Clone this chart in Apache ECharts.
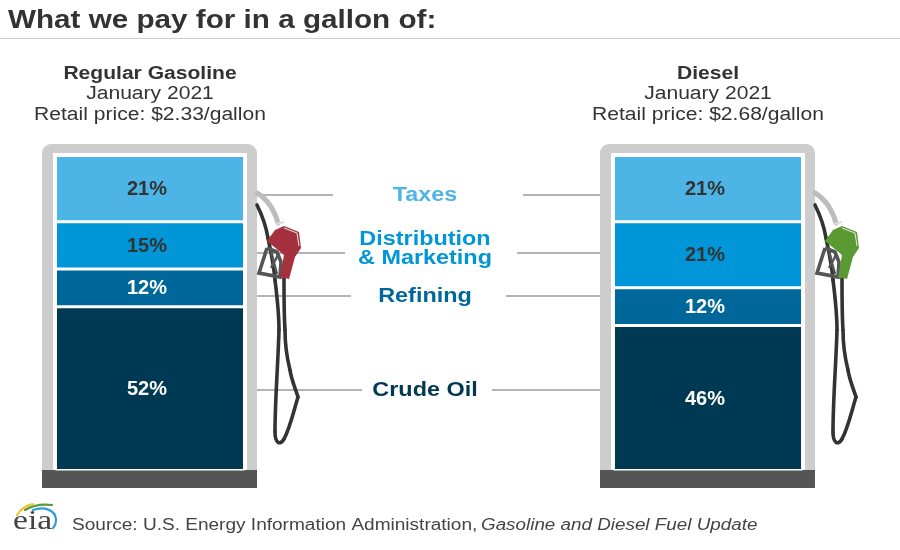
<!DOCTYPE html>
<html><head><meta charset="utf-8"><style>html,body{margin:0;padding:0;background:#fff}#c{width:900px;height:550px}</style>
<script src="https://cdn.jsdelivr.net/npm/echarts@6/dist/echarts.min.js"></script></head><body><div id="c"></div>
<script>
const fuels = ['Regular Gasoline', 'Diesel'];
const dates = ['January 2021', 'January 2021'];
const prices = ['$2.33', '$2.68'];
const components = ['Crude Oil', 'Refining', 'Distribution & Marketing', 'Taxes'];
const crudeOil = [52, 46];
const refining = [12, 12];
const distribution = [15, 21];
const taxes = [21, 21];
const componentValues = [crudeOil, refining, distribution, taxes];
const componentColors = ['#003953', '#00679A', '#0096D7', '#4DB4E6'];
const labelColors = ['#ffffff', '#ffffff', '#333333', '#333333'];
const nozzleColors = ['#A5313F', '#5B9A32'];
const FONT = '"Liberation Sans", Arial, sans-serif';

const chart = echarts.init(document.getElementById('c'), null, {renderer: 'canvas'});
const SX = 1.17;
const T = (x, y, text, o) => ({type: 'text', x, y: y + 1, scaleX: o.sx || SX, z: 20, style: {
  x: 0, y: 0, text, fill: o.c || '#333', align: o.a || 'center', verticalAlign: 'middle',
  font: `${o.i ? 'italic ' : ''}${o.b ? 'bold ' : ''}${o.s}px ${o.f || FONT}`}});
const Line = (x1, y, x2) => ({type: 'line', z: 3, shape: {x1, y1: y, x2, y2: y}, style: {stroke: '#9a9a9a', lineWidth: 1.3}});
const Curve = (start, segs, stroke, w, dx, z) => {
  let p = start;
  return segs.map(s => {
    const el = {type: 'bezierCurve', x: dx, z: z || 4, shape: {x1: p[0], y1: p[1], cpx1: s[0], cpy1: s[1], cpx2: s[2], cpy2: s[3], x2: s[4], y2: s[5]},
      style: {fill: 'none', stroke, lineWidth: w, lineCap: 'round'}};
    p = [s[4], s[5]];
    return el;
  });
};
const Poly = (pts, fill, dx, z) => ({type: 'polygon', x: dx, z: z || 6, shape: {points: pts}, style: {fill}});
const PolyL = (pts, stroke, w, dx, z) => ({type: 'polyline', x: dx, z: z || 5, shape: {points: pts}, style: {fill: 'none', stroke, lineWidth: w, lineJoin: 'miter'}});

const g = [
  {type: 'rect', z: 0, shape: {x: 0, y: 38, width: 900, height: 1}, style: {fill: '#cfcfcf'}},
  T(8, 20, 'What we pay for in a gallon of:', {s: 25, b: 1, a: 'left', sx: 1.186})
];
const offs = [0, 558];
fuels.forEach((name, i) => {
  const dx = offs[i], cx = 150 + dx;
  g.push(T(cx, 73, name, {s: 18, b: 1}), T(cx, 93, dates[i], {s: 18}), T(cx, 114, `Retail price: ${prices[i]}/gallon`, {s: 18}));
  g.push({type: 'rect', x: dx, z: 1, shape: {x: 42, y: 144, width: 215, height: 330, r: [9, 9, 0, 0]}, style: {fill: '#CDCDCD'}});
  g.push({type: 'rect', x: dx, z: 2, shape: {x: 53, y: 153, width: 194, height: 317}, style: {fill: '#fff'}});
  g.push({type: 'rect', x: dx, z: 2, shape: {x: 42, y: 470, width: 215, height: 18}, style: {fill: '#555555'}});
  g.push(...Curve([257, 205], [
    [262, 215, 266, 226, 268, 238], [271, 252, 274, 266, 275, 280], [277, 296, 279, 312, 279, 330], [278, 365, 275, 400, 275, 432],
    [275, 443, 280, 446, 284, 439], [290, 428, 294, 410, 298, 397], [295, 388, 291, 378, 290, 370], [287, 358, 285, 345, 285, 330], [284, 315, 284, 298, 284, 278]
  ], '#333', 3.6, dx, 4));
  g.push(...Curve([257, 193], [[267, 199, 274, 209, 278, 223]], '#BDBDBD', 5, dx, 4));
  g.push(PolyL([[267, 248], [277, 252], [281, 262], [280, 277], [259, 273], [267, 248]], '#555', 3.6, dx, 5));
  g.push(PolyL([[271, 252], [277, 274]], '#555', 2.5, dx, 5), PolyL([[278, 255], [271, 268]], '#555', 2.5, dx, 5));
  g.push(Poly([[284, 226], [299, 232], [301, 248], [295, 257], [289, 279], [280, 277], [284, 255], [267, 241], [275, 230]], nozzleColors[i], dx, 6));
  g.push(PolyL([[276, 224], [284, 222]], '#ddd', 2, dx, 6));
  g.push(PolyL([[284, 228], [297, 233], [299, 246]], '#e8e8e8', 1, dx, 7));
});
[[195, 333, 523], [253, 345, 517], [296, 351, 506], [390, 362, 492]].forEach(a => g.push(Line(257, a[0], a[1]), Line(a[2], a[0], 600)));
g.push(
  T(425, 194, components[3], {s: 20, b: 1, c: componentColors[3]}),
  T(425, 238, 'Distribution', {s: 20, b: 1, c: componentColors[2]}),
  T(425, 257, '& Marketing', {s: 20, b: 1, c: componentColors[2]}),
  T(425, 295, components[1], {s: 20, b: 1, c: componentColors[1]}),
  T(425, 389, components[0], {s: 20, b: 1, c: componentColors[0]})
);
g.push(
  T(13, 521, 'eia', {s: 28, a: 'left', c: '#444', sx: 1.2, f: '"Liberation Serif", serif'}),
  ...Curve([17, 515], [[21, 509, 27, 505, 33, 504]], '#F2C230', 2.2, 0, 6),
  ...Curve([25, 510], [[33, 505, 43, 504, 52, 505]], '#5B9A32', 2.2, 0, 6),
  ...Curve([33, 510], [[44, 506, 55, 510, 56, 519], [56, 523, 55, 526, 53, 528]], '#2C9FD9', 2.2, 0, 6),
  T(72, 525, 'Source: U.S. Energy Information Administration,', {s: 16, a: 'left', c: '#444', sx: 1.19}),
  T(481, 525, 'Gasoline and Diesel Fuel Update', {s: 16, a: 'left', i: 1, c: '#444', sx: 1.177})
);

const grids = offs.map(dx => ({left: 55.5 + dx, top: 155.5, width: 189, height: 315, containLabel: false}));
const xAxis = fuels.map((f, i) => ({type: 'category', gridIndex: i, data: [f], show: false}));
const yAxis = fuels.map((f, i) => ({type: 'value', gridIndex: i, min: 0, max: 100, show: false}));
const series = [];
fuels.forEach((f, i) => components.forEach((c, k) => series.push({
  type: 'bar', name: c, stack: f, xAxisIndex: i, yAxisIndex: i, barWidth: '100%', z: 10,
  data: [componentValues[k][i]],
  itemStyle: {color: componentColors[k], borderColor: '#fff', borderWidth: 1.5},
  label: {show: true, position: 'inside', offset: [-3, 1], formatter: '{c}%', color: labelColors[k], fontFamily: FONT, fontWeight: 'bold', fontSize: 20},
  silent: true, animation: false
})));
chart.setOption({animation: false, grid: grids, xAxis, yAxis, series, graphic: g, tooltip: {show: false}});
</script></body></html>
